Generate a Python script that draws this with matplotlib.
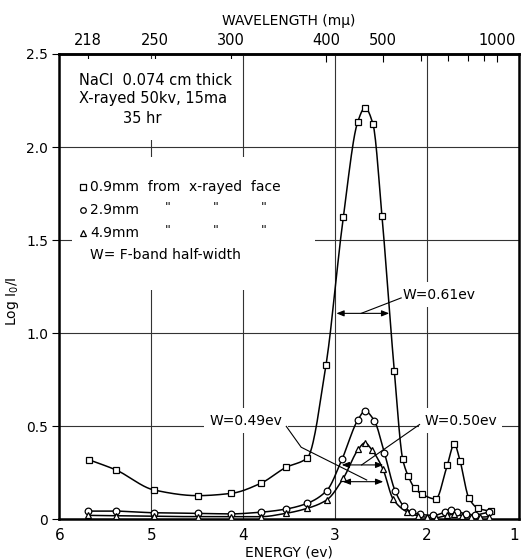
import numpy as np
import matplotlib
matplotlib.use("Agg")
import matplotlib.pyplot as plt
from matplotlib.patches import Rectangle

plt.rcParams['font.family'] = ['DejaVu Sans']

# ---------------- data ----------------
# 0.9 mm from x-rayed face (squares)
e_sq = [5.674, 5.383, 4.966, 4.494, 4.132, 3.809, 3.533, 3.301, 3.098, 2.910,
        2.753, 2.674, 2.587, 2.489, 2.355, 2.263, 2.202, 2.133, 2.050, 1.904,
        1.779, 1.702, 1.640, 1.544, 1.444, 1.305]
y_sq = [0.320, 0.266, 0.158, 0.128, 0.140, 0.194, 0.280, 0.331, 0.830, 1.622,
        2.135, 2.211, 2.124, 1.630, 0.800, 0.323, 0.232, 0.168, 0.135, 0.110,
        0.290, 0.405, 0.316, 0.116, 0.060, 0.044]
# 2.9 mm (circles)
e_ci = [5.684, 5.386, 4.966, 4.494, 4.132, 3.809, 3.533, 3.301, 3.090, 2.924,
        2.753, 2.674, 2.572, 2.463, 2.347, 2.250, 2.160, 2.080, 1.930, 1.800,
        1.740, 1.670, 1.570, 1.480, 1.320]
y_ci = [0.045, 0.045, 0.036, 0.033, 0.030, 0.039, 0.056, 0.087, 0.155, 0.323,
        0.533, 0.582, 0.530, 0.359, 0.155, 0.070, 0.038, 0.028, 0.022, 0.040,
        0.050, 0.042, 0.030, 0.025, 0.040]
# 4.9 mm (triangles)
e_tr = [5.684, 5.386, 4.966, 4.494, 4.132, 3.809, 3.533, 3.301, 3.090, 2.910,
        2.746, 2.674, 2.597, 2.478, 2.366, 2.220, 2.100, 2.000, 1.900, 1.780,
        1.700, 1.620, 1.520, 1.420, 1.320]
y_tr = [0.022, 0.020, 0.018, 0.015, 0.015, 0.015, 0.033, 0.060, 0.105, 0.221,
        0.377, 0.412, 0.373, 0.270, 0.108, 0.042, 0.020, 0.012, 0.010, 0.022,
        0.028, 0.020, 0.015, 0.012, 0.015]

# half-width markers: (label, E_left, E_right, level)
hw_labels = ["W=0.61ev", "W=0.50ev", "W=0.49ev"]
hw_left = [2.985, 2.927, 2.916]
hw_right = [2.410, 2.475, 2.475]
hw_level = [1.107, 0.293, 0.203]

energy_ticks = [6, 5, 4, 3, 2, 1]
energy_labels = ["6", "5", "4", "3", "2", "1"]
logi_ticks = [0, 0.5, 1.0, 1.5, 2.0, 2.5]
logi_labels = ["0", "0.5", "1.0", "1.5", "2.0", "2.5"]
wl_major = [218, 250, 300, 400, 500, 1000]
wl_minor = [600, 700, 800, 900]


def pchip(x, y, xs):
    x = np.asarray(x, float); y = np.asarray(y, float)
    o = np.argsort(x); x = x[o]; y = y[o]
    h = np.diff(x); d = np.diff(y) / h
    n = len(x); m = np.zeros(n)
    for k in range(1, n - 1):
        if d[k - 1] * d[k] > 0:
            w1 = 2 * h[k] + h[k - 1]; w2 = h[k] + 2 * h[k - 1]
            m[k] = (w1 + w2) / (w1 / d[k - 1] + w2 / d[k])
    m[0] = d[0]; m[-1] = d[-1]
    idx = np.clip(np.searchsorted(x, xs) - 1, 0, n - 2)
    t = (xs - x[idx]) / h[idx]
    h00 = 2 * t**3 - 3 * t**2 + 1; h10 = t**3 - 2 * t**2 + t
    h01 = -2 * t**3 + 3 * t**2; h11 = t**3 - t**2
    return h00 * y[idx] + h10 * h[idx] * m[idx] + h01 * y[idx + 1] + h11 * h[idx] * m[idx + 1]


fig = plt.figure(figsize=(5.21, 5.59), dpi=100)
ax = fig.add_axes([0.1138, 0.0707, 0.8820, 0.8327])
ax.set_xlim(6, 1)
ax.set_ylim(0, 2.5)

ax.set_xticks(energy_ticks)
ax.set_xticklabels(energy_labels, fontsize=11)
ax.get_xticklabels()[-1].set_horizontalalignment('right')
ax.set_yticks(logi_ticks)
ax.set_yticklabels(logi_labels, fontsize=10)
ax.tick_params(axis='x', length=0, pad=6)
ax.tick_params(axis='y', length=5, direction='out', width=0.8, pad=3)
ax.grid(True, color='0.2', lw=0.8)
ax.set_axisbelow(True)
for s in ax.spines.values():
    s.set_linewidth(1.8)

ax.set_xlabel("ENERGY (ev)", fontsize=10, labelpad=2)
ax.set_ylabel("Log I$_0$/I", fontsize=10)
ax.yaxis.set_label_coords(-0.083, 0.47)

# white areas around the text blocks (hide grid as in original)
for (x0, y0, w, h) in [(0.028, 0.815, 0.362, 0.175), (0.028, 0.493, 0.528, 0.286)]:
    ax.add_patch(Rectangle((x0, y0), w, h, transform=ax.transAxes,
                           facecolor='white', edgecolor='none', zorder=1))

xs_grid = lambda e: np.linspace(min(e), max(e), 600)
for e, y, mk, ms in [(e_sq, y_sq, 's', 4.8), (e_ci, y_ci, 'o', 4.8), (e_tr, y_tr, '^', 4.8)]:
    xs = xs_grid(e)
    ax.plot(xs, pchip(e, y, xs), color='k', lw=1.1, zorder=3)
    ax.plot(e, y, ls='none', marker=mk, ms=ms, mfc='white', mec='k', mew=0.9, zorder=4)

# half-width arrows
for i in range(3):
    ax.annotate('', xy=(hw_right[i], hw_level[i]), xytext=(hw_left[i], hw_level[i]),
                arrowprops=dict(arrowstyle='<|-|>,head_length=0.45,head_width=0.18',
                                lw=0.8, color='k', shrinkA=0, shrinkB=0), zorder=5)

bb = dict(facecolor='white', edgecolor='none', pad=4)
ax.text(2.27, 1.206, hw_labels[0], fontsize=10, ha='left', va='center', bbox=bb, zorder=5)
ax.plot([2.715, 2.28], [1.107, 1.19], color='k', lw=0.8, zorder=5)
ax.text(2.03, 0.53, hw_labels[1], fontsize=10, ha='left', va='center', bbox=bb, zorder=5)
ax.plot([2.71, 2.08], [0.293, 0.51], color='k', lw=0.8, zorder=5)
ax.text(4.36, 0.53, hw_labels[2], fontsize=10, ha='left', va='center', bbox=bb, zorder=5)
ax.plot([3.53, 3.368, 2.655], [0.50, 0.388, 0.212], color='k', lw=0.8, zorder=5)

# annotation texts
T = ax.transAxes
ax.text(0.043, 0.944, "NaCl  0.074 cm thick", transform=T, fontsize=10.5, va='center', zorder=5)
ax.text(0.043, 0.905, "X-rayed 50kv, 15ma", transform=T, fontsize=10.5, va='center', zorder=5)
ax.text(0.138, 0.862, "35 hr", transform=T, fontsize=10.5, va='center', zorder=5)
rows = [(0.714, 's', "0.9mm  from  x-rayed  face"), (0.665, 'o', "2.9mm"), (0.615, '^', "4.9mm")]
for yy, mk, txt in rows:
    ax.plot([0.052], [yy], transform=T, marker=mk, ms=4, mfc='white', mec='k', mew=0.9, zorder=5)
    ax.text(0.067, yy, txt, transform=T, fontsize=10, va='center', zorder=5)
    if mk != 's':
        for qx in [0.230, 0.333, 0.439]:
            ax.text(qx, yy + 0.006, '"', transform=T, fontsize=9, va='center', zorder=5)
ax.text(0.067, 0.568, "W= F-band half-width", transform=T, fontsize=10, va='center', zorder=5)

# top wavelength axis
def e2w(e):
    e = np.asarray(e, float)
    return 1240.0 / np.where(np.abs(e) < 1e-6, 1e-6, e)

sec = ax.secondary_xaxis('top', functions=(e2w, e2w))
sec.set_xticks(wl_major)
sec.set_xticklabels([str(w) for w in wl_major], fontsize=10.5)
sec.set_xticks(wl_minor, minor=True)
sec.tick_params(which='major', direction='in', length=6, width=0.8, pad=4)
sec.tick_params(which='minor', direction='in', length=5, width=0.8)
sec.set_xlabel("WAVELENGTH (m\u03bc)", fontsize=10, labelpad=6)
sec.spines['top'].set_linewidth(1.8)

fig.savefig("out.png", dpi=100)
